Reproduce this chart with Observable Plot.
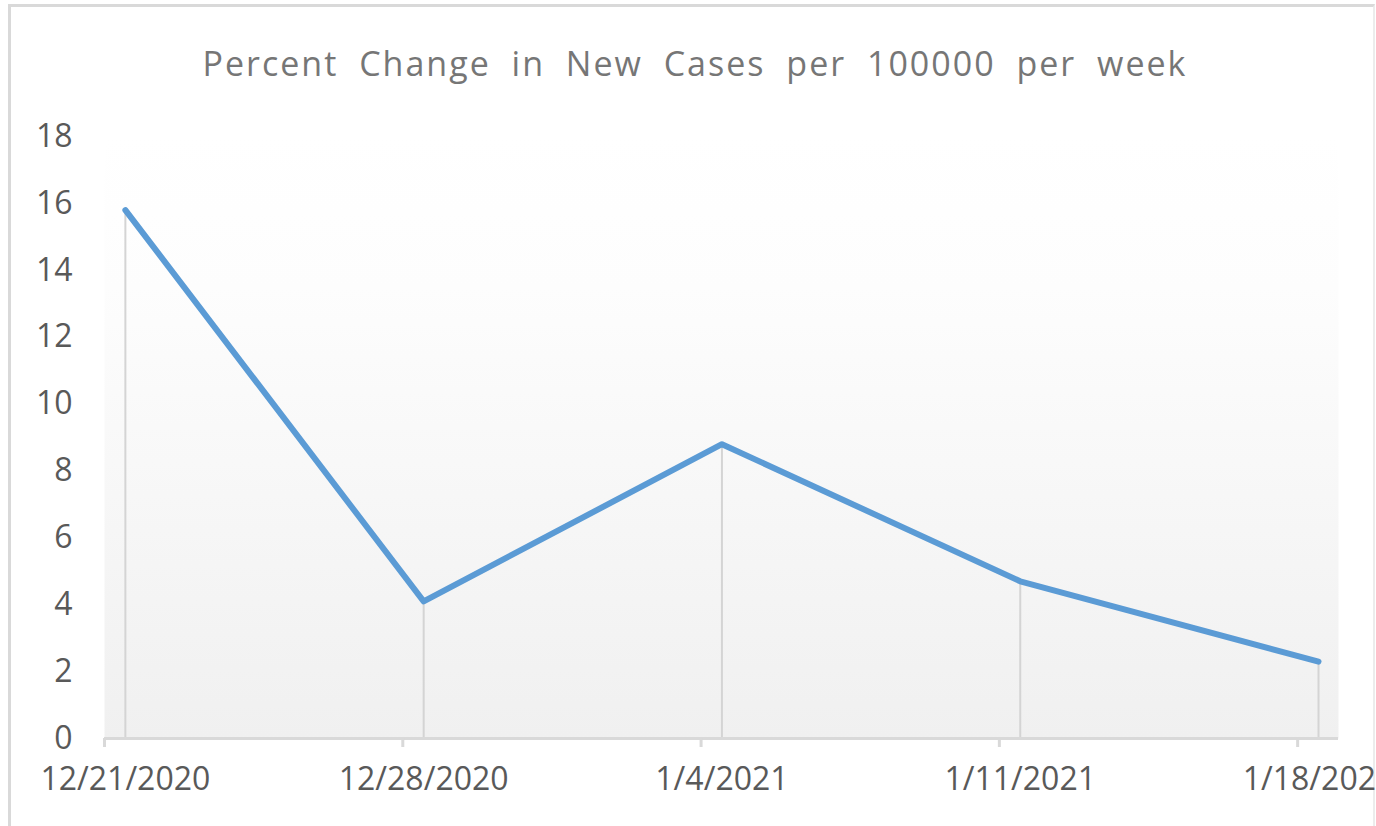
<!DOCTYPE html>
<html>
<head>
<meta charset="utf-8">
<script src="https://cdn.jsdelivr.net/npm/d3@7"></script>
<script src="https://cdn.jsdelivr.net/npm/@observablehq/plot@0.6"></script>
<style>
  html, body { margin: 0; padding: 0; background: #fff; overflow: hidden; }
  #wrap { position: relative; width: 1376px; height: 826px; overflow: hidden; }
  #frame { position: absolute; left: 8px; top: 4px; width: 1362px; height: 900px;
           border-left: 3px solid #d9d9d9; border-top: 3px solid #d9d9d9; border-right: 2px solid #ececec; }
  #title { position: absolute; left: 0; width: 1376px; top: 40px; padding-left: 14px; box-sizing: border-box;
           text-align: center; font-family: "Open Sans", sans-serif; font-size: 34px; color: #767676;
           word-spacing: 10px; letter-spacing: 2px; line-height: 46px; white-space: nowrap; }
  #chart { position: absolute; left: 0; top: 100px; }
  #chart text { font-family: "Open Sans", sans-serif; }
</style>
</head>
<body>
<div id="wrap">
  <div id="frame"></div>
  <div id="title"></div>
  <div id="chart"></div>
</div>
<script>
const title = "Percent Change in New Cases per 100000 per week";
const weeks = ["12/21/2020", "12/28/2020", "1/4/2021", "1/11/2021", "1/18/2021"];
const values = [15.8, 4.1, 8.8, 4.7, 2.3];
const yTicks = [0, 2, 4, 6, 8, 10, 12, 14, 16, 18];

document.getElementById("title").textContent = title;

const data = weeks.map((w, i) => ({i, week: w, value: values[i]}));
const tickOffset = 0.07;        // date-axis tick marks sit just before each point
const xDomain = [-tickOffset, weeks.length - 1 + 0.067];

const chart = Plot.plot({
  width: 1376,
  height: 726,
  marginLeft: 104,
  marginRight: 38,
  marginTop: 36,
  marginBottom: 88,
  x: {type: "linear", domain: xDomain, axis: null},
  y: {type: "linear", domain: [0, 18], ticks: yTicks},
  marks: [
    Plot.frame({fill: "url(#bgGrad)", stroke: null}),
    Plot.axisY({ticks: yTicks, tickSize: 0, tickPadding: 32, fontSize: 32, color: "#595959", label: null}),
    Plot.ruleX(data, {x: "i", y1: 0, y2: "value", stroke: "#d4d4d4", strokeWidth: 2}),
    Plot.ruleY([0], {x1: xDomain[0], x2: xDomain[1], stroke: "#d9d9d9", strokeWidth: 3}),
    Plot.ruleX(data, {x: d => d.i - tickOffset, y1: 0, y2: 0, insetBottom: -9, stroke: "#d9d9d9", strokeWidth: 3}),
    Plot.line(data, {x: "i", y: "value", stroke: "#5b9bd5", strokeWidth: 6, strokeLinecap: "round", strokeLinejoin: "round"}),
    Plot.text(data, {x: "i", y: 0, text: "week", dy: 41, fontSize: 32, fill: "#595959"})
  ]
});

const defs = document.createElementNS("http://www.w3.org/2000/svg", "defs");
defs.innerHTML = `<linearGradient id="bgGrad" x1="0" y1="0" x2="0" y2="1">
  <stop offset="0" stop-color="#ffffff"/>
  <stop offset="0.25" stop-color="#fdfdfd"/>
  <stop offset="1" stop-color="#f0f0f0"/>
</linearGradient>`;
chart.insertBefore(defs, chart.firstChild);
document.getElementById("chart").appendChild(chart);
</script>
</body>
</html>
